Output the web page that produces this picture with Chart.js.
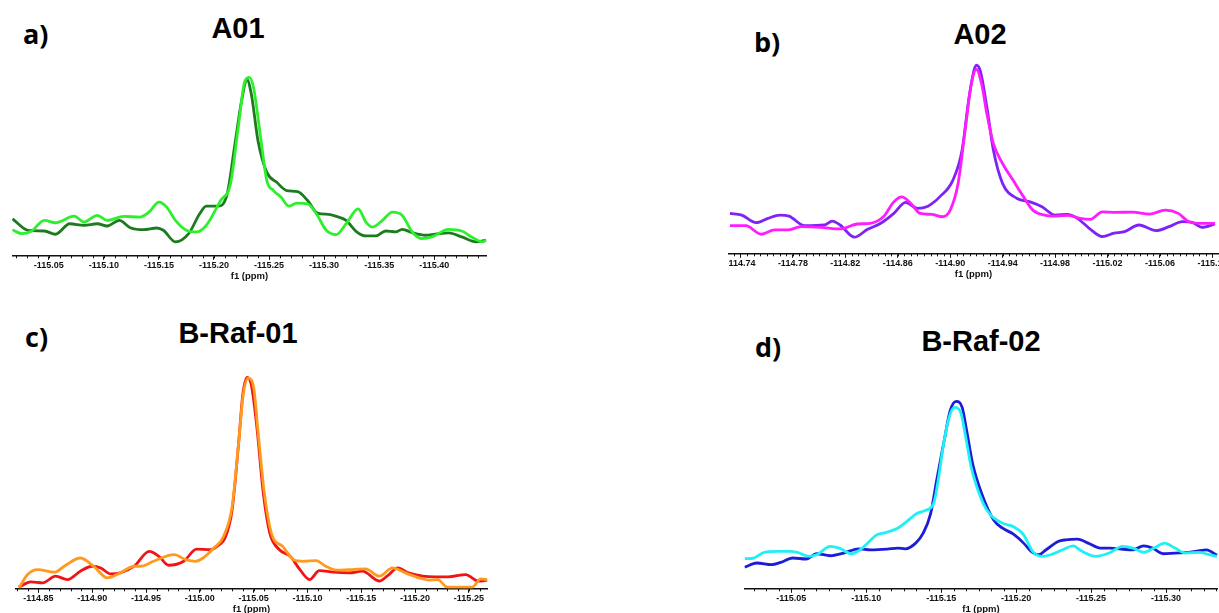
<!DOCTYPE html>
<html>
<head>
<meta charset="utf-8">
<script src="https://cdn.jsdelivr.net/npm/chart.js@4.4.1/dist/chart.umd.min.js"></script>
<style>
  html, body { margin: 0; padding: 0; background: #fff; width: 1219px; height: 613px; overflow: hidden; position: relative; }
  .panel { position: absolute; top: 0; height: 613px; overflow: hidden; }
  .panel canvas { position: absolute; }
  .letter { position: absolute; font: bold 27px 'Open Sans', sans-serif; line-height: 1; color: #000; }
  .title { position: absolute; font: bold 29px 'Liberation Sans', Arial, sans-serif; line-height: 1; color: #000;
           transform: translateX(-50%); white-space: nowrap; }
</style>
</head>
<body>
<div class="letter" style="left:23px;top:20px">a)</div>
<div class="letter" style="left:754px;top:28px">b)</div>
<div class="letter" style="left:25px;top:323px">c)</div>
<div class="letter" style="left:755px;top:333px">d)</div>
<div class="title" style="left:238px;top:14px">A01</div>
<div class="title" style="left:980px;top:20px">A02</div>
<div class="title" style="left:238px;top:319px">B-Raf-01</div>
<div class="title" style="left:981px;top:327px">B-Raf-02</div>

<script>
// ============================================================
// 19F NMR overlays — four panels, f1 (ppm) axes reversed
// ============================================================

Chart.defaults.font.family = "'Liberation Sans', Arial, sans-serif";
Chart.defaults.color = '#111';

// ── Tick labels (ppm) ───────────────────────────────────────
const ticksA = [-115.05, -115.10, -115.15, -115.20, -115.25, -115.30, -115.35, -115.40];
const ticksB = [-114.74, -114.78, -114.82, -114.86, -114.90, -114.94, -114.98, -115.02, -115.06, -115.10];
const ticksC = [-114.85, -114.90, -114.95, -115.00, -115.05, -115.10, -115.15, -115.20, -115.25];
const ticksD = [-115.05, -115.10, -115.15, -115.20, -115.25, -115.30];

// ── a) A01 ──────────────────────────────────────────────────
const aLightX = [-115.017, -115.025, -115.034, -115.046, -115.056, -115.073, -115.082, -115.094, -115.103, -115.118,
  -115.133, -115.141, -115.150, -115.157, -115.165, -115.175, -115.184, -115.193, -115.206, -115.215,
  -115.222, -115.228, -115.232, -115.236, -115.242, -115.248, -115.254, -115.261, -115.268, -115.275,
  -115.285, -115.293, -115.302, -115.311, -115.320, -115.331, -115.338, -115.344, -115.353, -115.362,
  -115.371, -115.380, -115.389, -115.398, -115.413, -115.425, -115.434, -115.444, -115.447];
const aLightY = [26.3, 22.3, 24.7, 35.7, 33.3, 40, 34, 40.7, 35.7, 39.7,
  39, 44, 54, 49, 35.7, 25.7, 24, 30.7, 55.7, 72.3,
  129, 175.7, 179.7, 169, 122.3, 75.7, 65.7, 59, 50, 53,
  52.3, 42.3, 25.7, 21.3, 32.3, 47.3, 34, 29, 35.7, 44,
  40.7, 24, 17.3, 19, 26.7, 25, 19, 14, 15.7];
const aDarkX = [-115.017, -115.031, -115.046, -115.056, -115.069, -115.082, -115.094, -115.103, -115.114, -115.124,
  -115.136, -115.148, -115.154, -115.165, -115.177, -115.187, -115.193, -115.204, -115.212, -115.219,
  -115.225, -115.230, -115.234, -115.240, -115.248, -115.257, -115.266, -115.276, -115.285, -115.294,
  -115.304, -115.311, -115.320, -115.329, -115.338, -115.347, -115.356, -115.365, -115.371, -115.380,
  -115.392, -115.401, -115.413, -115.425, -115.438, -115.447];
const aDarkY = [37.3, 25.7, 25, 21.7, 32.3, 30.7, 32.3, 30, 35.7, 28.3,
  26.3, 28, 25.7, 14, 22.3, 42.3, 50, 50, 62.3, 112.3,
  155.7, 177.3, 162.3, 115.7, 84, 74, 65.7, 64.7, 55.7, 43,
  41.7, 39.7, 35.7, 24.7, 20, 20, 25, 24, 26.7, 23.3,
  20.7, 21.7, 23, 19, 14, 15.7];

// ── b) A02 ──────────────────────────────────────────────────
const bMagX = [-114.732, -114.744, -114.756, -114.766, -114.776, -114.786, -114.801, -114.816, -114.829, -114.839,
  -114.849, -114.857, -114.863, -114.870, -114.877, -114.886, -114.894, -114.900, -114.906, -114.911,
  -114.916, -114.920, -114.924, -114.928, -114.933, -114.940, -114.948, -114.956, -114.963, -114.972,
  -114.981, -114.990, -114.999, -115.007, -115.016, -115.026, -115.039, -115.052, -115.064, -115.074,
  -115.082, -115.092, -115.102];
const bMagY = [28.3, 28.3, 19.7, 24, 24, 27.3, 26.7, 25, 30, 30.7,
  37.3, 52.3, 57.3, 50.7, 40.7, 39.7, 37.3, 44, 70.7, 120.7,
  170.7, 185.7, 170.7, 140.7, 110.7, 90.7, 74, 57.3, 44, 39,
  38, 38.7, 35.7, 34.7, 42.3, 41.7, 42, 40, 44, 40.7,
  32.3, 30.7, 30.7];
const bPurX = [-114.732, -114.741, -114.752, -114.761, -114.770, -114.777, -114.789, -114.804, -114.810, -114.816,
  -114.827, -114.837, -114.847, -114.857, -114.866, -114.875, -114.883, -114.892, -114.902, -114.909,
  -114.914, -114.918, -114.920, -114.923, -114.928, -114.933, -114.940, -114.951, -114.961, -114.970,
  -114.980, -114.989, -114.997, -115.006, -115.016, -115.025, -115.033, -115.044, -115.057, -115.067,
  -115.077, -115.085, -115.092, -115.102];
const bPurY = [40.7, 39, 31.3, 35.7, 39, 38, 28.3, 29, 33, 29,
  16.7, 24.7, 30.7, 40.7, 51.7, 45.7, 48, 57.3, 74, 104,
  154, 184, 190, 184, 147.3, 104, 70.7, 55.7, 52.3, 47.3,
  39, 39.7, 35.7, 25.7, 17.3, 20.7, 22.3, 29, 23.3, 27.3,
  32.3, 31.3, 26.7, 30];

// ── c) B-Raf-01 ─────────────────────────────────────────────
const cOrgX = [-114.832, -114.840, -114.849, -114.865, -114.874, -114.889, -114.902, -114.914, -114.926, -114.939,
  -114.945, -114.957, -114.976, -114.987, -114.996, -115.003, -115.013, -115.022, -115.030, -115.036,
  -115.040, -115.045, -115.050, -115.054, -115.060, -115.067, -115.077, -115.087, -115.096, -115.108,
  -115.117, -115.127, -115.139, -115.154, -115.167, -115.179, -115.191, -115.204, -115.213, -115.221,
  -115.230, -115.238, -115.253, -115.261, -115.267];
const cOrgY = [1, 14.3, 19.3, 16.7, 22.7, 31, 22, 11, 16, 22.7,
  22.7, 27.7, 34.3, 29.3, 27.7, 31, 41, 52.7, 82.7, 146,
  192.7, 212, 202.7, 159.3, 96, 54.3, 42.7, 29.3, 27.7, 28.3,
  22.7, 18.7, 19.3, 20, 12.7, 21, 16, 11, 8.7, 9.3,
  1.7, 1.7, 1.7, 10, 9.3];
const cRedX = [-114.832, -114.843, -114.854, -114.866, -114.877, -114.889, -114.900, -114.908, -114.917, -114.926,
  -114.939, -114.953, -114.962, -114.971, -114.985, -114.997, -115.010, -115.016, -115.024, -115.030,
  -115.036, -115.040, -115.044, -115.048, -115.053, -115.059, -115.065, -115.074, -115.084, -115.093,
  -115.102, -115.111, -115.124, -115.139, -115.151, -115.167, -115.174, -115.184, -115.194, -115.207,
  -115.219, -115.231, -115.247, -115.259, -115.267];
const cRedY = [1.7, 7, 6, 12.7, 9.3, 17.7, 22.7, 21, 15, 16,
  22.7, 37.7, 32.7, 23.7, 27.7, 40, 39.3, 42.7, 52.7, 79.3,
  146, 196, 212.7, 204.3, 162.7, 96, 56, 39.3, 32.7, 19.3,
  9.3, 18.3, 16.7, 16, 17.7, 7.7, 12.7, 21, 16, 12.7,
  12, 12, 14.3, 7.7, 8.7];

// ── d) B-Raf-02 ─────────────────────────────────────────────
const dCyanX = [-115.019, -115.025, -115.032, -115.041, -115.049, -115.054, -115.062, -115.067, -115.076, -115.082,
  -115.090, -115.096, -115.101, -115.107, -115.114, -115.121, -115.127, -115.134, -115.139, -115.145,
  -115.148, -115.152, -115.156, -115.159, -115.163, -115.166, -115.170, -115.178, -115.183, -115.191,
  -115.198, -115.205, -115.211, -115.217, -115.223, -115.231, -115.238, -115.244, -115.253, -115.262,
  -115.271, -115.278, -115.285, -115.292, -115.299, -115.306, -115.313, -115.322, -115.329, -115.334];
const dCyanY = [30.3, 31, 36.7, 37.7, 37.7, 36.7, 32.7, 34.3, 42.7, 41,
  35.3, 39.3, 46, 54.3, 57, 61, 67.7, 76, 78.7, 86,
  109.3, 149.3, 176, 182.7, 177.7, 156, 122.7, 86, 74.3, 66,
  62.7, 54.3, 37.7, 32.7, 34.3, 39.3, 43.3, 37.7, 32.7, 36,
  42.7, 41, 36.7, 41, 46, 41, 36, 36.7, 34.3, 32.7];
const dBlueX = [-115.019, -115.027, -115.037, -115.043, -115.051, -115.060, -115.067, -115.076, -115.085, -115.095,
  -115.103, -115.114, -115.121, -115.126, -115.133, -115.138, -115.143, -115.147, -115.152, -115.156,
  -115.160, -115.164, -115.167, -115.171, -115.177, -115.185, -115.191, -115.198, -115.205, -115.210,
  -115.215, -115.220, -115.228, -115.233, -115.241, -115.249, -115.256, -115.263, -115.270, -115.278,
  -115.285, -115.291, -115.298, -115.306, -115.315, -115.324, -115.327, -115.334];
const dBlueY = [21.7, 26, 24.3, 26.7, 31, 30, 35.3, 33.3, 36, 40.3,
  39.3, 40, 41, 40.3, 46, 56, 76, 109.3, 149.3, 179.3,
  188.7, 182.7, 159.3, 126, 96, 69.3, 61, 55.3, 46, 37.7,
  34.3, 39.3, 47.7, 49.3, 50, 45.3, 41, 41, 40, 39.3,
  43.3, 41, 35.3, 36, 36.7, 38.7, 39.3, 33.7];

// ── Panel layout (page px) — first series is drawn on top ──
const PANELS = [
  { x0: 12,  x1: 487,  axisY: 256, top: 62,  refPpm: -115.05, refX: 47.8,  ppx: 1106.7, major: ticksA, minorStep: 0.01,
    series: [{ x: aLightX, y: aLightY, color: '#2cf02c' }, { x: aDarkX, y: aDarkY, color: '#1e7a1e' }] },
  { x0: 728, x1: 1219, axisY: 254, top: 52,  refPpm: -114.78, refX: 792,   ppx: 1317.5, major: ticksB, minorStep: 0.005,
    series: [{ x: bMagX, y: bMagY, color: '#ff1cff' }, { x: bPurX, y: bPurY, color: '#7f22f5' }] },
  { x0: 15,  x1: 488,  axisY: 589, top: 370, refPpm: -114.85, refX: 37.3,  ppx: 1081.7, major: ticksC, minorStep: 0.01,
    series: [{ x: cOrgX, y: cOrgY, color: '#ff9a1f' }, { x: cRedX, y: cRedY, color: '#f01414' }] },
  { x0: 744, x1: 1218, axisY: 589, top: 392, refPpm: -115.05, refX: 790.3, ppx: 1506.7, major: ticksD, minorStep: 0.05 / 6,
    series: [{ x: dCyanX, y: dCyanY, color: '#1ff0f5' }, { x: dBlueX, y: dBlueY, color: '#1d1dd6' }] }
];

// ── Small minor tick marks under the axis line ─────────────
const minorTicks = {
  id: 'minorTicks',
  afterDraw(chart, args, opts) {
    const s = chart.scales.x, ctx = chart.ctx, step = opts.step;
    if (!step) return;
    ctx.save();
    ctx.strokeStyle = '#111';
    ctx.lineWidth = 1;
    ctx.beginPath();
    for (let k = Math.ceil(s.min / step - 1e-6); k * step <= s.max + 1e-9; k++) {
      const px = Math.round(s.getPixelForValue(k * step)) + 0.5;
      ctx.moveTo(px, s.top);
      ctx.lineTo(px, s.top + 2.5);
    }
    ctx.stroke();
    ctx.restore();
  }
};

function makePanel(p) {
  const M = 40;
  const box = document.createElement('div');
  box.className = 'panel';
  box.style.left = p.x0 + 'px';
  box.style.width = (p.x1 - p.x0) + 'px';
  document.body.appendChild(box);

  const canvas = document.createElement('canvas');
  canvas.width = p.x1 - p.x0 + 2 * M;
  canvas.height = p.axisY - p.top + 28;
  canvas.style.left = -M + 'px';
  canvas.style.top = p.top + 'px';
  box.appendChild(canvas);

  const pageLeft = p.x0 - M;
  const chart = new Chart(canvas.getContext('2d'), {
    type: 'line',
    data: {
      datasets: p.series.map(s => ({
        data: s.x.map((x, i) => ({ x, y: s.y[i] })),
        borderColor: s.color,
        borderWidth: 2.8,
        pointRadius: 0,
        cubicInterpolationMode: 'monotone',
        fill: false
      }))
    },
    options: {
      responsive: false,
      animation: false,
      layout: { padding: 0 },
      plugins: { legend: { display: false }, tooltip: { enabled: false }, minorTicks: { step: p.minorStep } },
      scales: {
        x: {
          type: 'linear',
          reverse: true,
          max: p.refPpm + (p.refX - pageLeft) / p.ppx,
          min: p.refPpm - (pageLeft + canvas.width - p.refX) / p.ppx,
          afterBuildTicks: axis => { axis.ticks = p.major.map(v => ({ value: v })); },
          grid: { display: true, drawOnChartArea: false, drawTicks: true, tickLength: 4, tickColor: '#111', tickWidth: 1 },
          border: { display: true, color: '#111', width: 1.5 },
          ticks: {
            autoSkip: false, maxRotation: 0, minRotation: 0, padding: 0, color: '#111',
            font: { size: 9, weight: 'bold' },
            callback: v => v.toFixed(2)
          },
          title: { display: true, text: 'f1 (ppm)', color: '#111', padding: { top: 0, bottom: 0 }, font: { size: 9.5, weight: 'bold' } }
        },
        y: { display: false, min: 0, max: 200 }
      }
    },
    plugins: [minorTicks]
  });

  // pin the scales to the page: 1 intensity unit = 1 px, ppm position from the reference tick
  const ca = chart.chartArea;
  chart.options.scales.x.max = p.refPpm + (p.refX - (pageLeft + ca.left)) / p.ppx;
  chart.options.scales.x.min = p.refPpm - (pageLeft + ca.right - p.refX) / p.ppx;
  chart.options.scales.y.max = ca.bottom - ca.top;
  canvas.style.top = (p.axisY - ca.bottom) + 'px';
  chart.update('none');
}

PANELS.forEach(makePanel);
</script>
</body>
</html>
